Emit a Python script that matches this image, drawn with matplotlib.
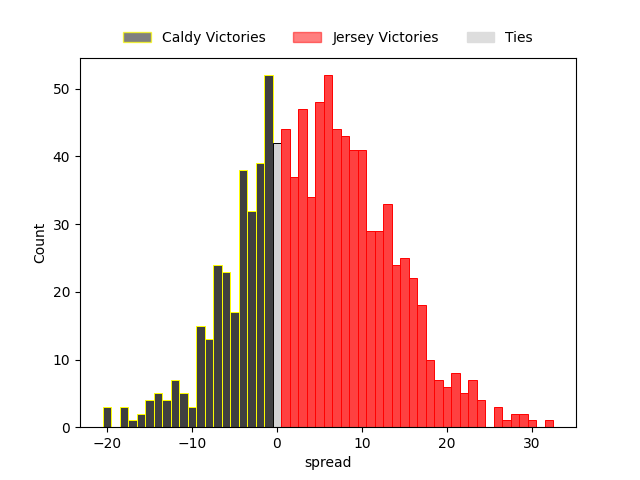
import matplotlib
matplotlib.use("Agg")
import matplotlib.pyplot as plt
from matplotlib.patches import Patch

caldy_spread = list(range(-20, 0))
caldy_counts = [3, 0, 3, 1, 2, 4, 5, 4, 7, 5, 3, 15, 13, 24, 23, 17, 38, 32, 39, 52]

tie_spread = [0]
tie_counts = [42]

jersey_spread = list(range(1, 33))
jersey_counts = [44, 37, 47, 34, 48, 52, 44, 43, 41, 41, 29, 29, 33, 24, 25, 22,
                 18, 10, 7, 6, 8, 5, 7, 4, 0, 3, 1, 2, 2, 1, 0, 1]

fig, ax = plt.subplots(figsize=(6.4, 4.8), dpi=100)

cs = [s for s, c in zip(caldy_spread, caldy_counts) if c > 0]
cc = [c for c in caldy_counts if c > 0]
js = [s for s, c in zip(jersey_spread, jersey_counts) if c > 0]
jc = [c for c in jersey_counts if c > 0]

ax.bar(cs, cc, width=1, facecolor='#404040', edgecolor='yellow', linewidth=0.7)
ax.bar(tie_spread, tie_counts, width=1, facecolor='lightgray', edgecolor='black', linewidth=0.7)
ax.bar(js, jc, width=1, facecolor='#ff4040', edgecolor='red', linewidth=0.7)

ax.set_xlim(-23.15, 35.15)
ax.set_ylim(0, 52 * 1.05)
ax.set_xlabel('spread')
ax.set_ylabel('Count')

handles = [
    Patch(facecolor=(0, 0, 0, 0.5), edgecolor=(1, 1, 0, 0.7), label='Caldy Victories'),
    Patch(facecolor=(1, 0, 0, 0.5), edgecolor=(1, 0, 0, 0.5), label='Jersey Victories'),
    Patch(facecolor='#dddddd', edgecolor='#dddddd', label='Ties'),
]
ax.legend(handles=handles, loc='lower center', bbox_to_anchor=(0.5, 1.0),
          ncol=3, frameon=False)

fig.savefig('out.png', dpi=100)
